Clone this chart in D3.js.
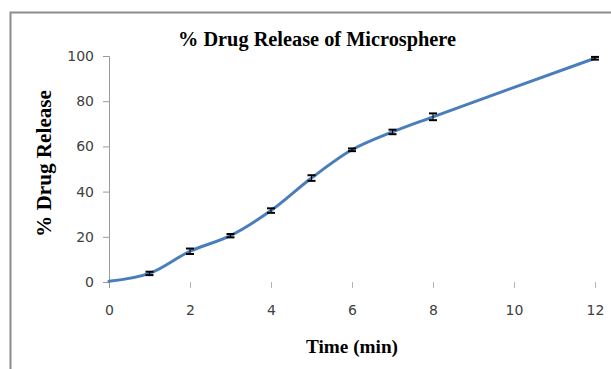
<!DOCTYPE html>
<html>
<head>
<meta charset="utf-8">
<script src="https://cdn.jsdelivr.net/npm/d3@7"></script>
<style>
  html, body { margin: 0; padding: 0; background: #fff; }
  svg { display: block; }
</style>
</head>
<body>
<svg id="chart" width="611" height="369"></svg>
<script>
// Cumulative drug release of the microsphere formulation
const timeMin = [0, 1, 2, 3, 4, 5, 6, 7, 8, 12];
const releasePct = [0.3, 3.8, 13.6, 20.5, 31.6, 46.0, 58.5, 66.4, 73.1, 99.0];
const releaseErr = [0, 0.75, 1.2, 0.75, 1.0, 1.25, 0.6, 1.0, 1.5, 0.6];
const xTicks = [0, 2, 4, 6, 8, 10, 12];
const yTicks = [0, 20, 40, 60, 80, 100];

const svg = d3.select("#chart");
const W = 611, H = 369;
const plot = { left: 109, right: 595, top: 56, bottom: 282 };

// chart frame
svg.append("rect")
  .attr("x", 10.5).attr("y", 12.5)
  .attr("width", W + 20).attr("height", H + 20)
  .attr("fill", "none").attr("stroke", "#8c8c8c").attr("stroke-width", 2);

const x = d3.scaleLinear().domain([0, 12]).range([plot.left, plot.right]);
const y = d3.scaleLinear().domain([0, 100]).range([plot.bottom, plot.top]);

// y axis
const yAxis = svg.append("g")
  .attr("transform", `translate(${plot.left},0)`)
  .call(d3.axisLeft(y).tickValues(yTicks).tickSize(6).tickPadding(9));
yAxis.select(".domain").attr("stroke", "#9a9a9a");
yAxis.selectAll(".tick line").attr("stroke", "#9a9a9a");
yAxis.selectAll("text")
  .attr("font-family", "DejaVu Sans").attr("font-size", 14).attr("fill", "#404040");

// x axis: tick marks and labels only
const xAxis = svg.append("g")
  .attr("transform", `translate(0,${plot.bottom})`)
  .call(d3.axisBottom(x).tickValues(xTicks).tickSize(6).tickPadding(17));
xAxis.select(".domain").remove();
xAxis.selectAll(".tick line").attr("stroke", "#b5b5b5");
xAxis.selectAll("text")
  .attr("font-family", "DejaVu Sans").attr("font-size", 14).attr("fill", "#404040");

// y axis line extended down to the tick level
svg.append("line")
  .attr("x1", plot.left + 0.5).attr("x2", plot.left + 0.5)
  .attr("y1", plot.bottom).attr("y2", plot.bottom + 6)
  .attr("stroke", "#9a9a9a");

const data = timeMin.map((t, i) => ({ t, v: releasePct[i], e: releaseErr[i] }));

// smoothed release curve
const line = d3.line()
  .x(d => x(d.t)).y(d => y(d.v))
  .curve(d3.curveCatmullRom.alpha(0.5));
svg.append("path")
  .datum(data)
  .attr("d", line)
  .attr("fill", "none")
  .attr("stroke", "#4a7ebb")
  .attr("stroke-width", 3)
  .attr("stroke-linecap", "round");

// error bars
const eb = svg.append("g").attr("stroke", "#000").attr("stroke-width", 2);
data.filter(d => d.e > 0).forEach(d => {
  const cx = x(d.t);
  eb.append("line").attr("x1", cx).attr("x2", cx)
    .attr("y1", y(d.v + d.e)).attr("y2", y(d.v - d.e)).attr("stroke-width", 1);
  [d.v + d.e, d.v - d.e].forEach(v => {
    eb.append("line").attr("x1", cx - 4).attr("x2", cx + 4)
      .attr("y1", y(v)).attr("y2", y(v));
  });
});

// titles
svg.append("text")
  .attr("x", 317).attr("y", 46)
  .attr("text-anchor", "middle")
  .attr("font-family", "Liberation Serif").attr("font-weight", "bold")
  .attr("font-size", 20)
  .attr("textLength", 278).attr("lengthAdjust", "spacingAndGlyphs")
  .text("% Drug Release of Microsphere");

svg.append("text")
  .attr("x", (plot.left + plot.right) / 2).attr("y", 353)
  .attr("text-anchor", "middle")
  .attr("font-family", "Liberation Serif").attr("font-weight", "bold")
  .attr("font-size", 19)
  .attr("textLength", 92).attr("lengthAdjust", "spacingAndGlyphs")
  .text("Time (min)");

svg.append("text")
  .attr("transform", "translate(51,163.5) rotate(-90)")
  .attr("text-anchor", "middle")
  .attr("font-family", "Liberation Serif").attr("font-weight", "bold")
  .attr("font-size", 20)
  .attr("textLength", 147).attr("lengthAdjust", "spacingAndGlyphs")
  .text("% Drug Release");
</script>
</body>
</html>
